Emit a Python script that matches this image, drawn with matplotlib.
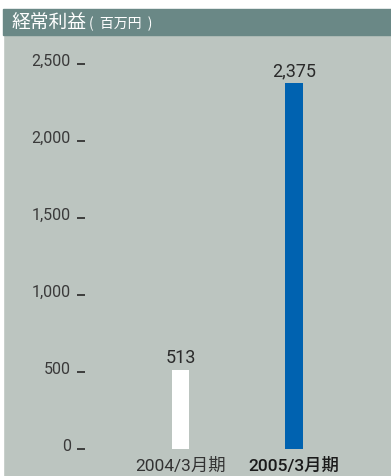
import matplotlib.pyplot as plt
import matplotlib.transforms as mtransforms
from matplotlib.patches import Rectangle

periods = ["2004/3月期", "2005/3月期"]
values = [513, 2375]
value_labels = ["513", "2,375"]
yticks = [0, 500, 1000, 1500, 2000, 2500]
ytick_labels = ["0", "500", "1,000", "1,500", "2,000", "2,500"]
bar_colors = ["#ffffff", "#0062b0"]

plt.rcParams['font.family'] = ['Roboto', 'Noto Sans CJK JP', 'DejaVu Sans']

W, H = 391, 477
fig = plt.figure(figsize=(W / 100, H / 100), dpi=100)
fig.patch.set_facecolor("#bcc5c0")

# white margins and header band
fig.patches.append(Rectangle((0, 0), 3 / W, 1, transform=fig.transFigure, color="white", zorder=0))
fig.patches.append(Rectangle((0, 1 - 10 / H), 1, 10 / H, transform=fig.transFigure, color="white", zorder=0))
fig.patches.append(Rectangle((3 / W, 1 - 36 / H), 1, 26 / H, transform=fig.transFigure, color="#6a8886", zorder=0))
fig.text(12 / W, 1 - 23 / H, "経常利益", color="white", fontsize=13.5, va="center", ha="left",
         family=['Noto Sans CJK JP'])
fig.text(89 / W, 1 - 24 / H, "(  百万円  )", color="white", fontsize=10, va="center", ha="left",
         family=['Noto Sans CJK JP'])

ax = fig.add_axes([85 / W, 0, (W - 85) / W, (H - 36) / H])
ax.set_facecolor("none")
for s in ax.spines.values():
    s.set_visible(False)

x = [0, 1]
ax.bar(x, values, width=0.15, color=bar_colors)

ax.set_xlim(-(180.5 - 85) / 113.5, 1 + (391 - 294) / 113.5)
ax.set_ylim(-(27 / 77) * 500, (414 / 77) * 500)

ax.set_yticks(yticks)
ax.set_yticklabels(ytick_labels)
ax.tick_params(axis="y", direction="out", length=5.8, width=1.3, color="#333333",
               pad=4.3, labelsize=11.5, labelcolor="#3a3a3a")
off = mtransforms.ScaledTranslation(0, 5 / 100, fig.dpi_scale_trans)
for lab in ax.get_yticklabels():
    lab.set_transform(lab.get_transform() + off)
ax.set_xticks([])

for i in range(len(values)):
    ax.annotate(value_labels[i], (x[i], values[i]), xytext=(0, 4), textcoords="offset pixels",
                ha="center", va="bottom", fontsize=13, color="#2a2a2a")

ax.text(x[0], -104, periods[0], ha="center", va="center", fontsize=12.5, color="#333333")
ax.text(x[1], -104, periods[1], ha="center", va="center", fontsize=12.5, color="#1a1a1a",
        fontweight="medium")

fig.savefig("out.png", dpi=100, facecolor=fig.get_facecolor())
